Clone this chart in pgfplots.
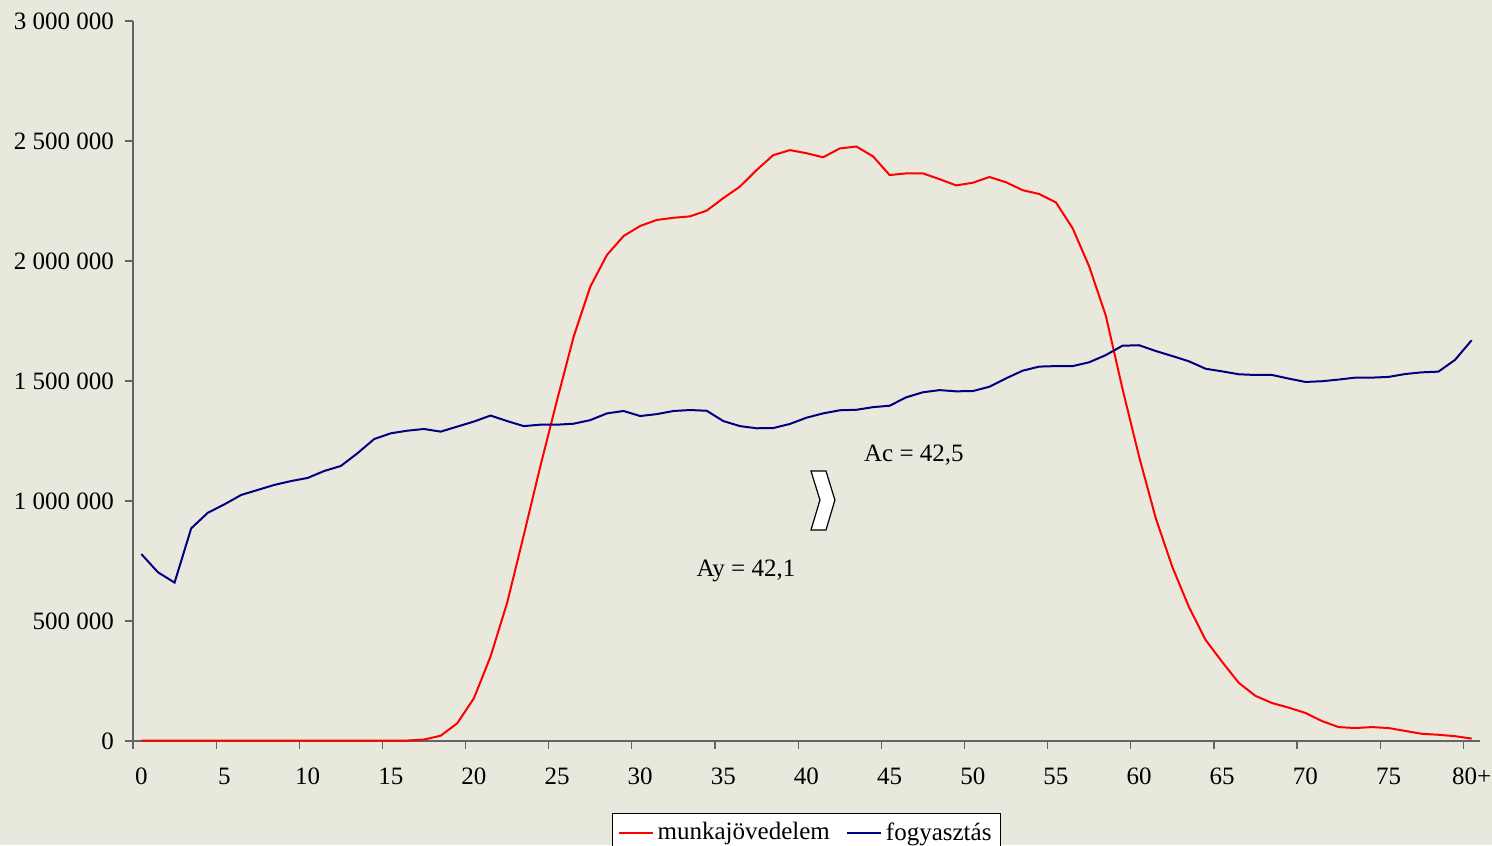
\documentclass[border=0pt]{standalone}
\usepackage{fontspec}
\setmainfont{Liberation Serif}
\usepackage{pgfplots}
\pgfplotsset{compat=1.18}
\definecolor{bgc}{RGB}{233,232,220}
\definecolor{navy}{RGB}{0,0,128}
\definecolor{axc}{RGB}{100,100,100}
\newcommand{\ts}{\hspace{0.25em}}
\newcommand{\fs}{\fontsize{12.5}{15}\selectfont}
\begin{document}
\begin{tikzpicture}
\fill[bgc] (-66.5pt,-52pt) rectangle (679.5pt,370.5pt);
\begin{scope}
\clip (-66.5pt,-52pt) rectangle (679.5pt,370.5pt);
\begin{axis}[
  at={(0,0)}, anchor=south west,
  scale only axis, width=673.5pt, height=360pt,
  xmin=-0.5, xmax=80.5, ymin=0, ymax=3000000,
  axis x line*=bottom, axis y line*=left,
  axis line style={axc, line width=0.6pt},
  every tick/.style={axc, line width=0.6pt},
  tick align=outside,
  xtick={0,5,...,80},
  xticklabels={0,5,10,15,20,25,30,35,40,45,50,55,60,65,70,75,80+},
  major x tick style={draw=none},
  minor xtick={-0.5,4.5,...,79.5},
  minor tick length=4pt,
  major tick length=4pt,
  ytick={0,500000,1000000,1500000,2000000,2500000,3000000},
  yticklabels={0,500\ts 000,1\ts 000\ts 000,1\ts 500\ts 000,2\ts 000\ts 000,2\ts 500\ts 000,3\ts 000\ts 000},
  scaled y ticks=false,
  ticklabel style={font=\fs, black},
  xticklabel style={yshift=-6pt},
  yticklabel style={xshift=-2pt},
  legend columns=2,
  legend style={draw=black, fill=white, line width=0.5pt, at={(0.5,0)}, anchor=north, yshift=-36pt,
    font=\fs, inner sep=2.5pt,
    /tikz/every even column/.append style={column sep=6pt}},
  legend cell align=left,
  clip=false,
]
\addplot[red, line width=1pt] coordinates {
(0,1500)(1,1500)(2,1500)(3,1500)(4,1500)(5,1500)(6,1500)(7,1500)(8,1500)(9,1500)
(10,1500)(11,1500)(12,1500)(13,1500)(14,1500)(15,1500)(16,2000)(17,6000)(18,22000)(19,74000)
(20,178000)(21,352000)(22,576000)(23,858000)(24,1146000)(25,1420000)(26,1685000)(27,1893000)(28,2025000)(29,2104000)
(30,2146000)(31,2171000)(32,2180000)(33,2186000)(34,2210000)(35,2262000)(36,2310000)(37,2379000)(38,2441000)(39,2462000)
(40,2449000)(41,2432000)(42,2469000)(43,2477000)(44,2436000)(45,2358000)(46,2365000)(47,2365000)(48,2341000)(49,2315000)
(50,2326000)(51,2350000)(52,2328000)(53,2295000)(54,2279000)(55,2244000)(56,2137000)(57,1977000)(58,1772000)(59,1468000)
(60,1185000)(61,929000)(62,725000)(63,558000)(64,421000)(65,329000)(66,242000)(67,188000)(68,158000)(69,139000)
(70,117000)(71,83000)(72,58000)(73,54000)(74,58000)(75,54000)(76,42000)(77,30000)(78,26000)(79,20000)(80,10000)
};
\addlegendentry{munkajövedelem}
\addplot[navy, line width=1pt] coordinates {
(0,779000)(1,703000)(2,660000)(3,886000)(4,951000)(5,986000)(6,1025000)(7,1046000)(8,1067000)(9,1083000)
(10,1096000)(11,1125000)(12,1146000)(13,1199000)(14,1258000)(15,1282000)(16,1293000)(17,1300000)(18,1289000)(19,1310000)
(20,1331000)(21,1356000)(22,1333000)(23,1312000)(24,1318000)(25,1318000)(26,1322000)(27,1337000)(28,1365000)(29,1375000)
(30,1354000)(31,1362000)(32,1375000)(33,1379000)(34,1376000)(35,1333000)(36,1312000)(37,1303000)(38,1304000)(39,1321000)
(40,1347000)(41,1365000)(42,1378000)(43,1380000)(44,1391000)(45,1397000)(46,1432000)(47,1453000)(48,1462000)(49,1457000)
(50,1458000)(51,1476000)(52,1511000)(53,1543000)(54,1560000)(55,1562000)(56,1562000)(57,1578000)(58,1608000)(59,1647000)
(60,1649000)(61,1625000)(62,1604000)(63,1582000)(64,1551000)(65,1540000)(66,1528000)(67,1525000)(68,1525000)(69,1510000)
(70,1496000)(71,1499000)(72,1506000)(73,1514000)(74,1514000)(75,1517000)(76,1529000)(77,1536000)(78,1539000)(79,1588000)(80,1670000)
};
\addlegendentry{fogyasztás}
\draw[black, fill=white, line width=0.6pt] (axis cs:40.27,1125000) -- (axis cs:41.17,1125000) -- (axis cs:41.71,1004000) -- (axis cs:41.17,879000) -- (axis cs:40.27,879000) -- (axis cs:40.81,1004000) -- cycle;
\node[font=\fs] at (axis cs:46.46,1192000) {Ac = 42,5};
\node[font=\fs] at (axis cs:36.36,708000) {Ay = 42,1};
\end{axis}
\end{scope}
\pgfresetboundingbox
\path[use as bounding box] (-66.5pt,-52pt) rectangle (679.5pt,370.5pt);
\end{tikzpicture}
\end{document}
